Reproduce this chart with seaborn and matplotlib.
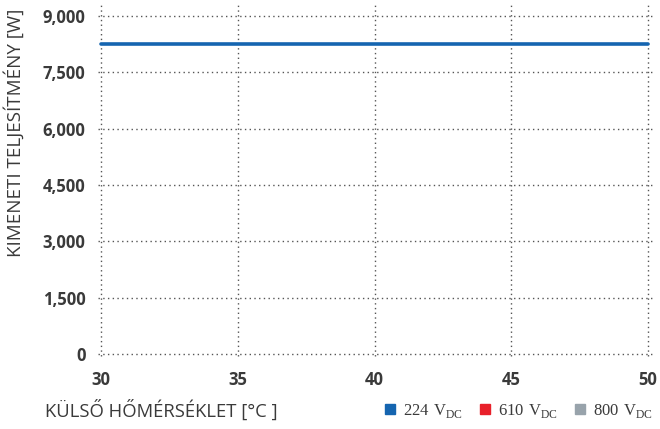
import matplotlib
matplotlib.use("Agg")
import matplotlib.pyplot as plt
import seaborn as sns
import pandas as pd
from matplotlib.lines import Line2D

temps = [30, 50]
power_224 = [8250, 8250]
x_ticks = [30, 35, 40, 45, 50]
y_ticks = [0, 1500, 3000, 4500, 6000, 7500, 9000]
legend_labels = ["224", "610", "800"]
legend_colors = ["#1565b0", "#e8202a", "#98a3ab"]

sns.set_theme(style="white")
plt.rcParams['font.family'] = ['Open Sans', 'DejaVu Sans']
plt.rcParams['mathtext.fontset'] = 'custom'
plt.rcParams['mathtext.rm'] = 'Liberation Serif'

fig = plt.figure(figsize=(6.6, 4.29), dpi=100)
ax = fig.add_axes([101/660, 1-354/429, (648-101)/660, (354-16)/429])

df = pd.DataFrame({"temp": temps, "power": power_224})
sns.lineplot(data=df, x="temp", y="power", ax=ax, color="#1565b0", linewidth=2.6, clip_on=False)

ax.set_xlim(30, 50)
ax.set_ylim(0, 9000)
for s in ax.spines.values():
    s.set_visible(False)
for xv in x_ticks:
    ax.plot([xv, xv], [-50, 9300], color="#555555", linestyle=(0, (1, 2.4)), linewidth=1.0, clip_on=False, zorder=0)
for yv in y_ticks:
    ax.plot([29.9, 50.2], [yv, yv], color="#555555", linestyle=(0, (1, 2.4)), linewidth=1.0, clip_on=False, zorder=0)

ax.set_xticks(x_ticks)
ax.set_yticks(y_ticks)
ax.set_xticklabels([str(v) for v in x_ticks], fontweight="bold", fontsize=12, color="#3a3a3a")
ax.set_yticklabels([f"{v:,}" for v in y_ticks], fontweight="bold", fontsize=12, color="#3a3a3a")
ax.tick_params(axis="both", length=0)
ax.tick_params(axis="y", pad=11)
ax.tick_params(axis="x", pad=12)
ax.set_xlabel("")
ax.set_ylabel("")

fig.text(14/660, 1-133/429, "KIMENETI TELJESÍTMÉNY [W]", rotation=90, ha="center", va="center",
         fontsize=13.5, color="#3a3a3a")
fig.text(45/660, 1-411/429, "KÜLSŐ HŐMÉRSÉKLET [°C ]", ha="left", va="center",
         fontsize=13.3, color="#3a3a3a")

handles = [Line2D([0], [0], marker="s", linestyle="none", markersize=7.5, markerfacecolor=c, markeredgecolor=c)
           for c in legend_colors]
labels = [rf"$\mathrm{{{l}\ V}}_{{\mathrm{{DC}}}}$" for l in legend_labels]
fig.legend(handles, labels, loc="center right", bbox_to_anchor=(1.0, 1-411/429), ncol=3,
           frameon=False, fontsize=12, handlelength=0.8, handletextpad=0.4, columnspacing=0.9,
           labelcolor="#3a3a3a", borderaxespad=0.0)

fig.savefig("out.png", dpi=100)
